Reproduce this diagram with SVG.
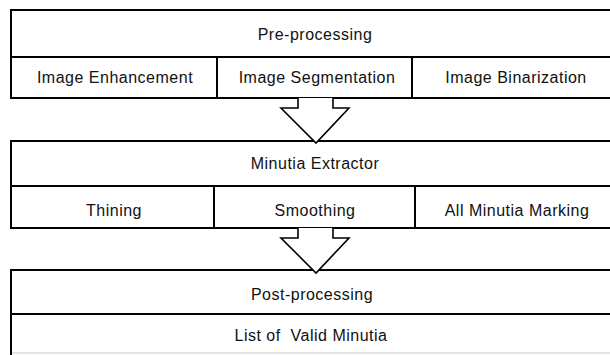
<svg xmlns="http://www.w3.org/2000/svg" width="610" height="355" viewBox="0 0 610 355">
<style>
.box{fill:#fff;stroke:#000;stroke-width:2}
.ln{stroke:#000;stroke-width:2;fill:none}
.t{font-family:"Liberation Sans",Arial,sans-serif;font-size:16px;letter-spacing:0.5px;fill:#111;text-anchor:middle}
.arr{fill:#fff;stroke:#000;stroke-width:1.6;stroke-linejoin:miter}
</style>
<rect width="610" height="355" fill="#fff"/>
<g id="preprocessing">
<rect class="box" x="11" y="10" width="610" height="88"/>
<line class="ln" x1="11" y1="57" x2="610" y2="57"/>
<line class="ln" x1="217" y1="57" x2="217" y2="98"/>
<line class="ln" x1="412" y1="57" x2="412" y2="98"/>
<text class="t" x="315" y="40">Pre-processing</text>
<text class="t" x="115" y="83">Image Enhancement</text>
<text class="t" x="317" y="83">Image Segmentation</text>
<text class="t" x="516" y="83">Image Binarization</text>
</g>
<g id="minutia-extractor">
<rect class="box" x="11" y="141" width="610" height="87"/>
<line class="ln" x1="11" y1="186" x2="610" y2="186"/>
<line class="ln" x1="214" y1="186" x2="214" y2="228"/>
<line class="ln" x1="415" y1="186" x2="415" y2="228"/>
<text class="t" x="315" y="169">Minutia Extractor</text>
<text class="t" x="114" y="216">Thining</text>
<text class="t" x="315" y="216">Smoothing</text>
<text class="t" x="517" y="216">All Minutia Marking</text>
</g>
<g id="postprocessing">
<rect class="box" x="11" y="270" width="610" height="100"/>
<line class="ln" x1="11" y1="314" x2="610" y2="314"/>
<line x1="12" y1="353" x2="610" y2="353" stroke="#ccc" stroke-width="1"/>
<text class="t" x="312" y="300">Post-processing</text>
<text class="t" x="311" y="341" xml:space="preserve">List of  Valid Minutia</text>
</g>
<g id="connectors">
<path class="arr" d="M298,98 L298,108 L281,108 L316,143 L349,108 L333,108 L333,98"/>
<path class="arr" d="M298,228 L298,238 L281,238 L316,273 L349,238 L333,238 L333,228"/>
</g>
</svg>
